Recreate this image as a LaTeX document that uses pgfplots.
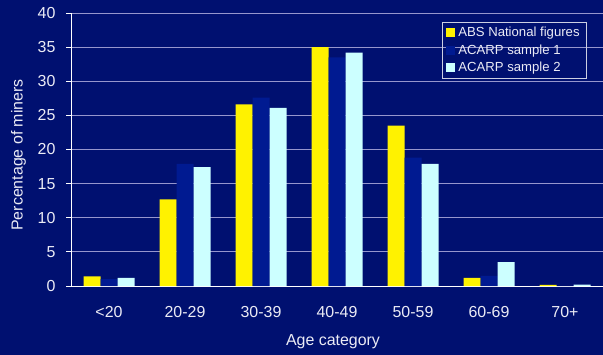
\documentclass[border=0pt]{standalone}
\usepackage{fontspec}
\setmainfont{Liberation Sans}
\usepackage{pgfplots}
\pgfplotsset{compat=1.18}
\definecolor{bg}{RGB}{0,16,112}
\definecolor{sone}{RGB}{0,26,145}
\definecolor{stwo}{RGB}{204,255,255}
\definecolor{gridc}{RGB}{150,150,205}
\definecolor{txt}{RGB}{235,235,245}
\begin{document}
\begin{tikzpicture}
\useasboundingbox (-71bp,-69bp) rectangle (532bp,286bp);
\fill[bg] (-71bp,-69bp) rectangle (532bp,286bp);
\begin{axis}[
  at={(0,0)}, anchor=south west,
  scale only axis, width=532bp, height=273bp,
  xmin=-0.5, xmax=6.5, ymin=0, ymax=40,
  ytick={0,5,...,40},
  xtick={0,...,6},
  xticklabels={<20,20-29,30-39,40-49,50-59,60-69,70+},
  minor xtick={0.5,1.5,...,5.5},
  axis x line*=bottom, axis y line*=left,
  axis line style={white, line width=0.9pt},
  ymajorgrids, major grid style={gridc, line width=0.9pt},
  tick align=outside,
  major tick length=5bp, minor tick length=5bp,
  y tick style={white, line width=0.8pt},
  xtick style={draw=none}, minor x tick style={gridc, line width=0.8pt},
  /pgf/number format/assume math mode=true,
  tick label style={text=txt, font=\fontsize{16}{19}\selectfont},
  xticklabel style={yshift=-12bp},
  yticklabel style={xshift=-7bp},
  label style={text=txt, font=\fontsize{16}{19}\selectfont},
  xlabel={Age category},
  ylabel={Percentage of miners},
  xlabel style={at={(axis description cs:0.4925,0)}, anchor=center, yshift=-55.5bp},
  ylabel style={at={(axis description cs:-0.0987,0.48)}, anchor=center},
  ybar=0pt, bar width=17bp,
  legend style={draw=white!80!bg, line width=0.8pt, fill=none, text=txt,
    font=\fontsize{13.2}{15}\selectfont,
    at={(rel axis cs:0.97,0.967)}, anchor=north east,
    row sep=2.5bp, inner xsep=4bp, inner ysep=3bp,
    nodes={inner xsep=3bp}},
  legend cell align=left,
  legend image code/.code={\fill[#1] (0bp,-4.5bp) rectangle (9bp,4.5bp);},
]
\addplot[fill=yellow, draw=none] coordinates {(0,1.4) (1,12.7) (2,26.6) (3,35.0) (4,23.5) (5,1.2) (6,0.15)};
\addplot[fill=sone, draw=none] coordinates {(0,1.0) (1,17.9) (2,27.6) (3,33.5) (4,18.8) (5,1.5) (6,0)};
\addplot[fill=stwo, draw=none] coordinates {(0,1.2) (1,17.4) (2,26.1) (3,34.2) (4,17.9) (5,3.5) (6,0.2)};
\legend{ABS National figures, ACARP sample 1, ACARP sample 2}
\end{axis}
\end{tikzpicture}
\end{document}
